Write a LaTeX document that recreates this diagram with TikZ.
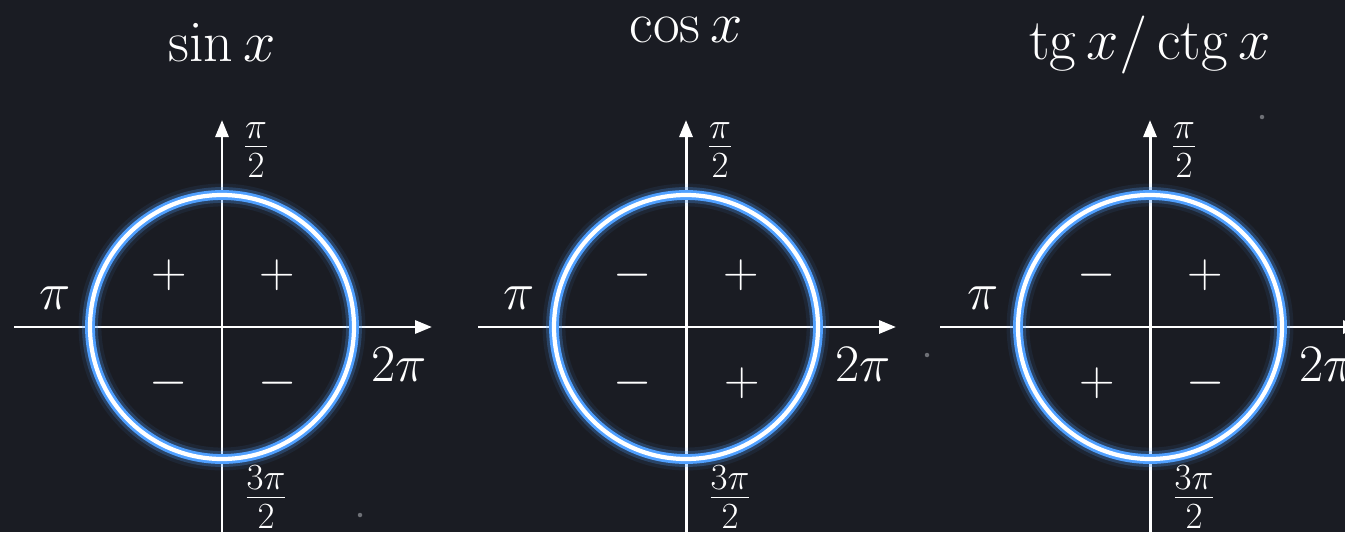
\documentclass[tikz,border=0pt]{standalone}
\usepackage{fix-cm}
\usetikzlibrary{arrows.meta}
\definecolor{bgdark}{RGB}{26,28,35}
\definecolor{glowblue}{RGB}{80,160,255}
\definecolor{dotgrey}{RGB}{110,112,118}

\begin{document}
\begin{tikzpicture}[
    axis/.style  = {line width=1.7pt, draw=white,
                    -{Triangle[length=3.4mm, width=2.6mm, fill=white]}},
    glowA/.style = {line width=13pt, draw=glowblue, opacity=0.08},
    glowB/.style = {line width=9pt, draw=glowblue, opacity=0.25},
    glowC/.style = {line width=5.6pt, draw=glowblue},
    ring/.style  = {line width=2.4pt, draw=white},
    lbl/.style   = {text=white, font=\fontsize{30}{36}\selectfont, inner sep=0pt},
    title/.style = {lbl, font=\fontsize{33}{40}\selectfont},
    sign/.style  = {lbl, font=\fontsize{28}{34}\selectfont},
    speck/.style = {fill=dotgrey},
]

%% ---- Layout coordinates ----
\def\xSin{4.44}
\def\xCos{13.72}
\def\xTg{23.00}
\def\yAx{4.10}
\def\rad{2.64}

%% ---- Page and background ----
\fill[bgdark] (0,0) rectangle (26.9,10.64);
\useasboundingbox (0,0) rectangle (26.9,10.64);

%% ==================================================================
%% AXES
%% ==================================================================

\coordinate (sinO) at (\xSin, \yAx);
\coordinate (sinW) at (\xSin-4.16, \yAx);
\coordinate (sinE) at (\xSin+4.20, \yAx);
\coordinate (sinN) at (\xSin, \yAx+4.14);
\coordinate (sinS) at (\xSin, 0);

\coordinate (cosO) at (\xCos, \yAx);
\coordinate (cosW) at (\xCos-4.16, \yAx);
\coordinate (cosE) at (\xCos+4.20, \yAx);
\coordinate (cosN) at (\xCos, \yAx+4.14);
\coordinate (cosS) at (\xCos, 0);

\coordinate (tgO) at (\xTg, \yAx);
\coordinate (tgW) at (\xTg-4.20, \yAx);
\coordinate (tgE) at (\xTg+4.20, \yAx);
\coordinate (tgN) at (\xTg, \yAx+4.14);
\coordinate (tgS) at (\xTg, 0);

\draw[axis] (sinW) -- (sinE);
\draw[axis] (sinS) -- (sinN);
\draw[axis] (cosW) -- (cosE);
\draw[axis] (cosS) -- (cosN);
\draw[axis] (tgW) -- (tgE);
\draw[axis] (tgS) -- (tgN);

%% ==================================================================
%% GLOWING CIRCLES
%% ==================================================================

\draw[glowA] (sinO) circle (\rad);
\draw[glowB] (sinO) circle (\rad);
\draw[glowC] (sinO) circle (\rad);
\draw[ring]  (sinO) circle (\rad);

\draw[glowA] (cosO) circle (\rad);
\draw[glowB] (cosO) circle (\rad);
\draw[glowC] (cosO) circle (\rad);
\draw[ring]  (cosO) circle (\rad);

\draw[glowA] (tgO) circle (\rad);
\draw[glowB] (tgO) circle (\rad);
\draw[glowC] (tgO) circle (\rad);
\draw[ring]  (tgO) circle (\rad);

%% ==================================================================
%% TITLES AND ANGLE LABELS
%% ==================================================================

\node[title] (sinTitle) at (\xSin, 9.80) {$\sin x$};
\node[title] (cosTitle) at (\xCos, 10.04) {$\cos x$};
\node[title] (tgTitle)  at (\xTg, 9.74)
    {$\mathop{\mathrm{tg}}x/\mathop{\mathrm{ctg}}x$};

\node[lbl] (sinPi)    at (\xSin-3.34, \yAx+0.58) {$\pi$};
\node[lbl] (sinTwoPi) at (\xSin+3.54, \yAx-0.76) {$2\pi$};
\node[lbl] (sinHalf)  at (\xSin+0.68, \yAx+3.54) {$\frac{\pi}{2}$};
\node[lbl] (sinThree) at (\xSin+0.88, \yAx-3.40) {$\frac{3\pi}{2}$};

\node[lbl] (cosPi)    at (\xCos-3.34, \yAx+0.58) {$\pi$};
\node[lbl] (cosTwoPi) at (\xCos+3.54, \yAx-0.76) {$2\pi$};
\node[lbl] (cosHalf)  at (\xCos+0.68, \yAx+3.54) {$\frac{\pi}{2}$};
\node[lbl] (cosThree) at (\xCos+0.88, \yAx-3.40) {$\frac{3\pi}{2}$};

\node[lbl] (tgPi)    at (\xTg-3.34, \yAx+0.58) {$\pi$};
\node[lbl] (tgTwoPi) at (\xTg+3.54, \yAx-0.76) {$2\pi$};
\node[lbl] (tgHalf)  at (\xTg+0.68, \yAx+3.54) {$\frac{\pi}{2}$};
\node[lbl] (tgThree) at (\xTg+0.88, \yAx-3.40) {$\frac{3\pi}{2}$};

%% ==================================================================
%% QUADRANT SIGNS
%% ==================================================================

\node[sign] (sinQ1) at (\xSin+1.10, \yAx+1.04) {$+$};
\node[sign] (sinQ2) at (\xSin-1.06, \yAx+1.04) {$+$};
\node[sign] (sinQ3) at (\xSin-1.06, \yAx-1.12) {$-$};
\node[sign] (sinQ4) at (\xSin+1.12, \yAx-1.12) {$-$};

\node[sign] (cosQ1) at (\xCos+1.10, \yAx+1.04) {$+$};
\node[sign] (cosQ2) at (\xCos-1.06, \yAx+1.04) {$-$};
\node[sign] (cosQ3) at (\xCos-1.06, \yAx-1.12) {$-$};
\node[sign] (cosQ4) at (\xCos+1.12, \yAx-1.12) {$+$};

\node[sign] (tgQ1) at (\xTg+1.10, \yAx+1.04) {$+$};
\node[sign] (tgQ2) at (\xTg-1.06, \yAx+1.04) {$-$};
\node[sign] (tgQ3) at (\xTg-1.06, \yAx-1.12) {$+$};
\node[sign] (tgQ4) at (\xTg+1.12, \yAx-1.12) {$-$};

%% ---- stray specks ----
\fill[speck] (7.20, 0.34) circle (0.045);
\fill[speck] (18.54, 3.54) circle (0.045);
\fill[speck] (25.24, 8.30) circle (0.045);

\end{tikzpicture}
\end{document}
